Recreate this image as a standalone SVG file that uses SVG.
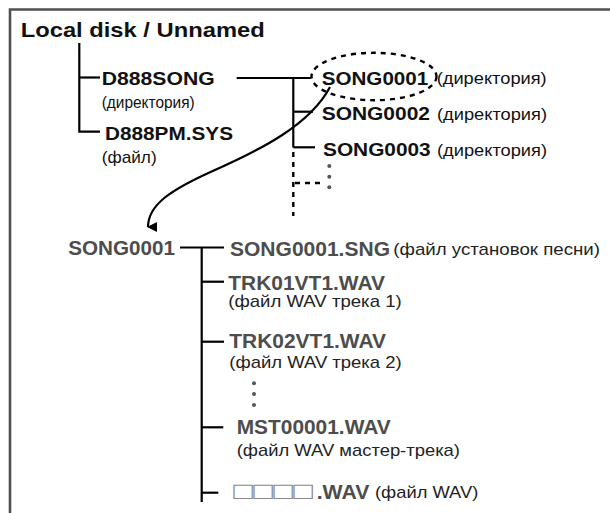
<svg xmlns="http://www.w3.org/2000/svg" width="610" height="513" viewBox="0 0 610 513">
<style>
  text { font-family: "Liberation Sans", Arial, Helvetica, sans-serif; }
  .b { font-weight: bold; fill: #111; }
  .r { font-weight: normal; fill: #111; font-size: 17px; }
  .g { font-weight: bold; fill: #4d4d4d; font-size: 20px; }
  .gr { font-weight: normal; fill: #222; font-size: 17px; }
  .ln { stroke: #000; stroke-width: 2.2; fill: none; }
  .dash { stroke: #000; stroke-width: 2.4; fill: none; stroke-dasharray: 5 5; }
  .dot { fill: #555; }
</style>
<defs>
  <marker id="arr" markerWidth="10" markerHeight="10" refX="5" refY="9" orient="auto" markerUnits="userSpaceOnUse" viewBox="0 0 10 10">
    <path d="M0,0 L10,0 L5,10 Z" fill="#000"/>
  </marker>
</defs>
<rect width="610" height="513" fill="#fff"/>
<g id="frame">
  <path d="M10,513 L10,9.5 L610,9.5" stroke="#505050" stroke-width="2.6" fill="none"/>
</g>

<g id="connectors">
  <path class="ln" d="M79.3,43 L79.3,131.7 L100,131.7"/>
  <path class="ln" d="M79.3,77.5 L100,77.5"/>
  <path class="ln" d="M236.7,78 L311,78"/>
  <path class="ln" d="M293.3,78 L293.3,147.5"/>
  <path class="ln" d="M293.3,111.7 L313,111.7"/>
  <path class="ln" d="M293.3,147.3 L315,147.3"/>
  <path class="dash" d="M293.3,152 L293.3,216"/>
  <path class="dash" d="M295,183 L322,183"/>
  <ellipse cx="374" cy="76.5" rx="62.5" ry="23.7" class="dash" stroke-dasharray="6 4"/>
  <path class="ln" d="M330,87 C310,125 260,150 215,170 C170,190 148,205 148,227" marker-end="url(#arr)"/>
  <path class="ln" d="M180,247.5 L224,247.5"/>
  <path class="ln" d="M201.7,247.5 L201.7,502"/>
  <path class="ln" d="M201.7,281.7 L224,281.7"/>
  <path class="ln" d="M201.7,341.7 L224,341.7"/>
  <path class="ln" d="M201.7,427.3 L223.3,427.3"/>
  <path class="ln" d="M201.7,492.7 L218.3,492.7"/>
</g>

<g id="dots-upper">
  <circle class="dot" cx="329.3" cy="166" r="2"/>
  <circle class="dot" cx="329.3" cy="176.7" r="2"/>
  <circle class="dot" cx="329.3" cy="187.3" r="2"/>
</g>
<g id="dots-lower">
  <circle class="dot" cx="254" cy="383.3" r="2"/>
  <circle class="dot" cx="254" cy="394" r="2"/>
  <circle class="dot" cx="254" cy="405" r="2"/>
</g>

<g id="root"><text class="b" x="20.7" y="37" font-size="21" textLength="244" lengthAdjust="spacingAndGlyphs">Local disk / Unnamed</text></g>
<g id="d888song">
  <text class="b" x="101.7" y="84.5" font-size="19" textLength="113" lengthAdjust="spacingAndGlyphs">D888SONG</text>
  <text class="r" x="101.7" y="108" textLength="93" lengthAdjust="spacingAndGlyphs">(директория)</text>
</g>
<g id="d888pm">
  <text class="b" x="105" y="139.5" font-size="19" textLength="128" lengthAdjust="spacingAndGlyphs">D888PM.SYS</text>
  <text class="r" x="101.7" y="163" textLength="55" lengthAdjust="spacingAndGlyphs">(файл)</text>
</g>
<g id="song0001">
  <text class="b" x="321.7" y="84.5" font-size="19" textLength="106.6" lengthAdjust="spacingAndGlyphs">SONG0001</text>
  <text class="r" x="436.7" y="84" textLength="110" lengthAdjust="spacingAndGlyphs">(директория)</text>
</g>
<g id="song0002">
  <text class="b" x="321.7" y="120.3" font-size="19" textLength="108.3" lengthAdjust="spacingAndGlyphs">SONG0002</text>
  <text class="r" x="437" y="120" textLength="110" lengthAdjust="spacingAndGlyphs">(директория)</text>
</g>
<g id="song0003">
  <text class="b" x="323" y="156" font-size="19" textLength="107.7" lengthAdjust="spacingAndGlyphs">SONG0003</text>
  <text class="r" x="437" y="156" textLength="110" lengthAdjust="spacingAndGlyphs">(директория)</text>
</g>

<g id="song0001-dir"><text class="g" x="68.3" y="254.5" textLength="106.7" lengthAdjust="spacingAndGlyphs">SONG0001</text></g>
<g id="sng">
  <text class="g" x="230" y="256" textLength="160" lengthAdjust="spacingAndGlyphs">SONG0001.SNG</text>
  <text class="gr" x="393.3" y="255" textLength="206.7" lengthAdjust="spacingAndGlyphs">(файл установок песни)</text>
</g>
<g id="trk01">
  <text class="g" x="228.3" y="290" textLength="156.7" lengthAdjust="spacingAndGlyphs">TRK01VT1.WAV</text>
  <text class="gr" x="228.3" y="307" textLength="173.4" lengthAdjust="spacingAndGlyphs">(файл WAV трека 1)</text>
</g>
<g id="trk02">
  <text class="g" x="229.3" y="348.3" textLength="156.7" lengthAdjust="spacingAndGlyphs">TRK02VT1.WAV</text>
  <text class="gr" x="229.3" y="368.3" textLength="172.4" lengthAdjust="spacingAndGlyphs">(файл WAV трека 2)</text>
</g>
<g id="mst">
  <text class="g" x="236.7" y="434.3" textLength="154" lengthAdjust="spacingAndGlyphs">MST00001.WAV</text>
  <text class="gr" x="236.7" y="456.3" textLength="223.3" lengthAdjust="spacingAndGlyphs">(файл WAV мастер-трека)</text>
</g>
<g id="wav">
  <text x="233.3" y="499" font-family="'DejaVu Sans', sans-serif" font-size="24" fill="#8a8a8a" textLength="80" lengthAdjust="spacingAndGlyphs">□□□□</text>
  <text class="g" x="316.7" y="498.5" textLength="52.6" lengthAdjust="spacingAndGlyphs">.WAV</text>
  <text class="gr" x="375" y="498" textLength="103.3" lengthAdjust="spacingAndGlyphs">(файл WAV)</text>
</g>
</svg>
